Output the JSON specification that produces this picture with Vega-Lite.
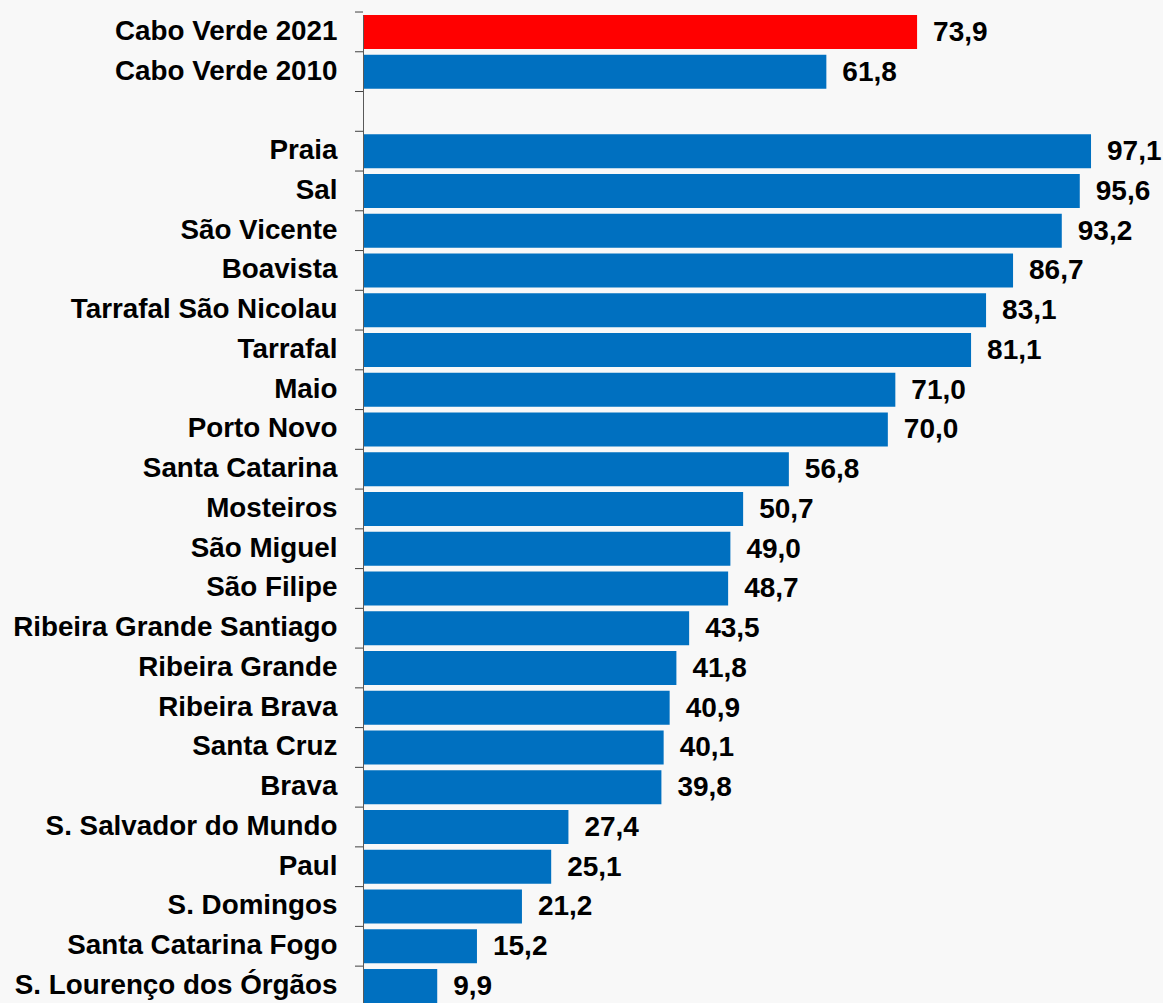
{
  "$schema": "https://vega.github.io/schema/vega-lite/v6.json",
  "width": 800,
  "height": 988.1,
  "autosize": {"type": "none"},
  "padding": {"left": 363, "top": 14.9, "right": 0, "bottom": 0},
  "background": "#f8f8f8",
  "config": {
    "view": {"stroke": null},
    "locale": {"number": {"decimal": ",", "thousands": ".", "grouping": [3], "currency": ["", " €"]}}
  },
  "datasets": {
    "bars": [
      {"name": "Cabo Verde 2021", "value": 73.9},
      {"name": "Cabo Verde 2010", "value": 61.8},
      {"name": "Praia", "value": 97.1},
      {"name": "Sal", "value": 95.6},
      {"name": "São Vicente", "value": 93.2},
      {"name": "Boavista", "value": 86.7},
      {"name": "Tarrafal São Nicolau", "value": 83.1},
      {"name": "Tarrafal", "value": 81.1},
      {"name": "Maio", "value": 71.0},
      {"name": "Porto Novo", "value": 70.0},
      {"name": "Santa Catarina", "value": 56.8},
      {"name": "Mosteiros", "value": 50.7},
      {"name": "São Miguel", "value": 49.0},
      {"name": "São Filipe", "value": 48.7},
      {"name": "Ribeira Grande Santiago", "value": 43.5},
      {"name": "Ribeira Grande", "value": 41.8},
      {"name": "Ribeira Brava", "value": 40.9},
      {"name": "Santa Cruz", "value": 40.1},
      {"name": "Brava", "value": 39.8},
      {"name": "S. Salvador do Mundo", "value": 27.4},
      {"name": "Paul", "value": 25.1},
      {"name": "S. Domingos", "value": 21.2},
      {"name": "Santa Catarina Fogo", "value": 15.2},
      {"name": "S. Lourenço dos Órgãos", "value": 9.9}
    ],
    "categories": [
      {"name": "Cabo Verde 2021"},
      {"name": "Cabo Verde 2010"},
      {"name": " "},
      {"name": "Praia"},
      {"name": "Sal"},
      {"name": "São Vicente"},
      {"name": "Boavista"},
      {"name": "Tarrafal São Nicolau"},
      {"name": "Tarrafal"},
      {"name": "Maio"},
      {"name": "Porto Novo"},
      {"name": "Santa Catarina"},
      {"name": "Mosteiros"},
      {"name": "São Miguel"},
      {"name": "São Filipe"},
      {"name": "Ribeira Grande Santiago"},
      {"name": "Ribeira Grande"},
      {"name": "Ribeira Brava"},
      {"name": "Santa Cruz"},
      {"name": "Brava"},
      {"name": "S. Salvador do Mundo"},
      {"name": "Paul"},
      {"name": "S. Domingos"},
      {"name": "Santa Catarina Fogo"},
      {"name": "S. Lourenço dos Órgãos"}
    ]
  },
  "encoding": {
    "y": {
      "field": "name",
      "type": "nominal",
      "scale": {
        "domain": ["Cabo Verde 2021", "Cabo Verde 2010", " ", "Praia", "Sal", "São Vicente", "Boavista", "Tarrafal São Nicolau", "Tarrafal", "Maio", "Porto Novo", "Santa Catarina", "Mosteiros", "São Miguel", "São Filipe", "Ribeira Grande Santiago", "Ribeira Grande", "Ribeira Brava", "Santa Cruz", "Brava", "S. Salvador do Mundo", "Paul", "S. Domingos", "Santa Catarina Fogo", "S. Lourenço dos Órgãos"],
        "paddingInner": 0.145,
        "paddingOuter": 0
      },
      "axis": {
        "title": null,
        "domain": true,
        "domainColor": "#595959",
        "domainWidth": 1,
        "ticks": false,
        "labelPadding": 26,
        "labelLimit": 500,
        "labelFont": "Liberation Sans",
        "labelFontSize": 27.8,
        "labelFontWeight": "bold",
        "labelColor": "#000000",
        "labelAlign": "right",
        "labelBaseline": "middle",
        "grid": false,
        "zindex": 1
      }
    }
  },
  "layer": [
    {
      "data": {"name": "bars"},
      "mark": {"type": "bar"},
      "encoding": {
        "x": {
          "field": "value",
          "type": "quantitative",
          "scale": {"domain": [0, 106.7], "nice": false, "zero": true},
          "axis": null
        },
        "color": {
          "condition": {"test": "datum.name === 'Cabo Verde 2021'", "value": "#FF0000"},
          "value": "#0070C0"
        }
      }
    },
    {
      "data": {"name": "bars"},
      "mark": {
        "type": "text",
        "align": "left",
        "baseline": "middle",
        "dx": 16,
        "dy": 1,
        "font": "Liberation Sans",
        "fontSize": 28,
        "fontWeight": "bold",
        "color": "#000000"
      },
      "encoding": {
        "x": {"field": "value", "type": "quantitative"},
        "text": {"field": "value", "type": "quantitative", "format": ".1f"}
      }
    },
    {
      "data": {"name": "categories"},
      "mark": {"type": "rule", "color": "#404040", "strokeWidth": 1, "yOffset": -2.88, "y2Offset": -2.88, "xOffset": -8},
      "encoding": {
        "y": {"field": "name", "type": "nominal", "bandPosition": 0},
        "x": {"datum": 0},
        "x2": {"datum": 0}
      }
    }
  ]
}
